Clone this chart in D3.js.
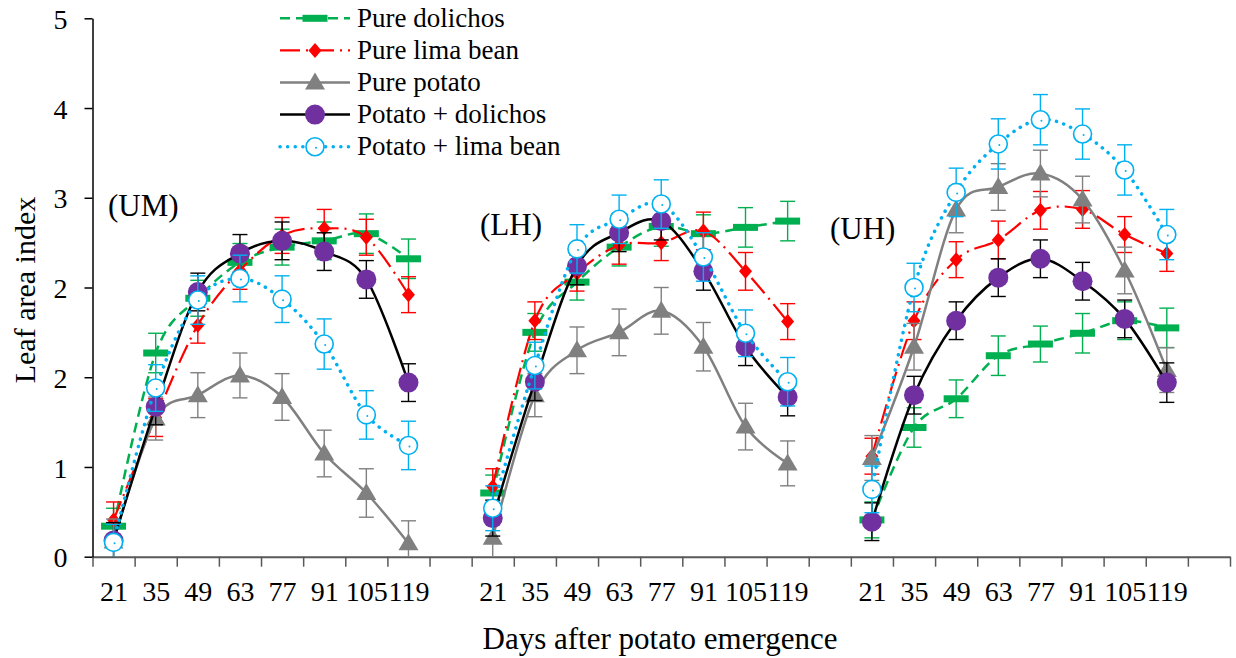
<!DOCTYPE html>
<html>
<head>
<meta charset="utf-8">
<script src="https://cdn.jsdelivr.net/npm/d3@7"></script>
<style>
  html, body { margin: 0; padding: 0; background: #fff; }
  svg { display: block; font-family: "Liberation Serif", "Times New Roman", serif; }
</style>
</head>
<body>
<svg id="chart" width="1236" height="658"></svg>
<script>
// ---------- data ----------
const sites = ["UM", "LH", "UH"];
const days = [21, 35, 49, 63, 77, 91, 105, 119];
const yTickLabels = ["0", "1", "2", "2", "3", "4", "5"];
const seriesNames = ["Pure dolichos", "Pure lima bean", "Pure potato", "Potato + dolichos", "Potato + lima bean"];

// values per site (UM, LH, UH), in the axis units of the chart
const pureDolichos = [
  [0.34, 2.27, 2.88, 3.28, 3.45, 3.52, 3.60, 3.32],
  [0.71, 2.50, 3.06, 3.45, 3.68, 3.60, 3.67, 3.74],
  [0.41, 1.44, 1.76, 2.24, 2.37, 2.49, 2.63, 2.55]
];
const pureLima = [
  [0.41, 1.55, 2.58, 3.19, 3.58, 3.66, 3.56, 2.92],
  [0.78, 2.63, 3.16, 3.47, 3.50, 3.63, 3.18, 2.62],
  [1.12, 2.63, 3.31, 3.53, 3.86, 3.87, 3.59, 3.38]
];
const purePotato = [
  [0.17, 1.54, 1.80, 2.02, 1.78, 1.15, 0.71, 0.15],
  [0.21, 1.80, 2.30, 2.50, 2.74, 2.34, 1.45, 1.04],
  [1.10, 2.34, 3.87, 4.12, 4.27, 3.98, 3.19, 2.08]
];
const potatoDolichos = [
  [0.18, 1.67, 2.95, 3.38, 3.52, 3.40, 3.09, 1.94],
  [0.43, 1.95, 3.24, 3.61, 3.74, 3.18, 2.34, 1.78],
  [0.39, 1.80, 2.63, 3.11, 3.32, 3.07, 2.65, 1.94]
];
const potatoLima = [
  [0.16, 1.88, 2.86, 3.10, 2.87, 2.37, 1.58, 1.24],
  [0.54, 2.13, 3.43, 3.76, 3.93, 3.34, 2.49, 1.95],
  [0.75, 3.00, 4.06, 4.60, 4.87, 4.71, 4.31, 3.59]
];

// error bar half-lengths
const errDolichos = [
  [0.20, 0.22, 0.20, 0.21, 0.20, 0.21, 0.22, 0.22],
  [0.20, 0.21, 0.20, 0.21, 0.22, 0.21, 0.22, 0.22],
  [0.20, 0.22, 0.21, 0.22, 0.20, 0.22, 0.21, 0.22]
];
const errLima = [
  [0.20, 0.21, 0.20, 0.21, 0.20, 0.21, 0.20, 0.20],
  [0.20, 0.21, 0.20, 0.21, 0.20, 0.21, 0.21, 0.20],
  [0.20, 0.21, 0.20, 0.21, 0.21, 0.21, 0.20, 0.20]
];
const errPotato = [
  [0.25, 0.24, 0.25, 0.25, 0.26, 0.26, 0.27, 0.25],
  [0.25, 0.24, 0.26, 0.26, 0.26, 0.27, 0.26, 0.25],
  [0.25, 0.26, 0.26, 0.26, 0.26, 0.26, 0.26, 0.25]
];
const errPotDol = [
  [0.20, 0.20, 0.21, 0.21, 0.21, 0.21, 0.21, 0.21],
  [0.20, 0.21, 0.21, 0.21, 0.21, 0.21, 0.21, 0.21],
  [0.21, 0.21, 0.21, 0.21, 0.21, 0.21, 0.21, 0.22]
];
const errPotLima = [
  [0.20, 0.26, 0.27, 0.26, 0.26, 0.28, 0.27, 0.27],
  [0.25, 0.26, 0.27, 0.27, 0.27, 0.27, 0.26, 0.27],
  [0.26, 0.27, 0.27, 0.28, 0.28, 0.28, 0.28, 0.28]
];

// ---------- styles ----------
const styles = [
  { name: seriesNames[0], values: pureDolichos, err: errDolichos, line: "#00B050", dash: "10,6", width: 2.5, marker: "dash", fill: "#00B050", errColor: "#00B050" },
  { name: seriesNames[1], values: pureLima, err: errLima, line: "#FF0000", dash: "20,6,2,6", width: 2.2, marker: "diamond", fill: "#FF0000", errColor: "#FF0000" },
  { name: seriesNames[2], values: purePotato, err: errPotato, line: "#808080", dash: null, width: 2.5, marker: "triangle", fill: "#808080", errColor: "#808080" },
  { name: seriesNames[3], values: potatoDolichos, err: errPotDol, line: "#000000", dash: null, width: 2.5, marker: "circle", fill: "#7030A0", errColor: "#000000" },
  { name: seriesNames[4], values: potatoLima, err: errPotLima, line: "#00B0F0", dash: "0.1,7.5", width: 3.5, marker: "open", fill: "#ffffff", errColor: "#00B0F0" }
];

// ---------- scales ----------
const slotsPerSite = days.length + 1;
const nSlots = sites.length * slotsPerSite;
const x = d3.scaleLinear().domain([0, nSlots]).range([92.5, 1230]);
const y = d3.scaleLinear().domain([0, 6]).range([556.7, 18.3]);
const slotCenter = (s, i) => x(s * slotsPerSite + i + 0.5);

const svg = d3.select("#chart");

// ---------- axes ----------
const xAxisG = svg.append("g").attr("transform", `translate(0,${y(0)})`)
  .call(d3.axisBottom(x).tickValues(d3.range(0, nSlots + 1)).tickSize(10).tickSizeOuter(0).tickFormat(""));
xAxisG.select(".domain").attr("stroke", "#595959").attr("stroke-width", 2);
xAxisG.selectAll(".tick line").attr("stroke", "#595959").attr("stroke-width", 1.5);

const centers = [];
const centerLabel = new Map();
sites.forEach((s, si) => days.forEach((d, di) => {
  const c = si * slotsPerSite + di + 0.5;
  centers.push(c);
  centerLabel.set(c, String(d));
}));
const xLabG = svg.append("g").attr("transform", `translate(0,${y(0)})`)
  .call(d3.axisBottom(x).tickValues(centers).tickSize(0).tickSizeOuter(0).tickFormat(v => centerLabel.get(v)));
xLabG.select(".domain").remove();
xLabG.selectAll(".tick text").attr("font-size", 28).attr("font-family", "Liberation Serif").attr("fill", "#000")
  .attr("y", 0).attr("dy", "1.58em");

const yAxisG = svg.append("g").attr("transform", `translate(${x(0)},0)`)
  .call(d3.axisLeft(y).tickValues(d3.range(0, 7)).tickSize(8).tickSizeOuter(0).tickPadding(17).tickFormat(i => yTickLabels[i]));
yAxisG.select(".domain").attr("stroke", "#000").attr("stroke-width", 1.5);
yAxisG.selectAll(".tick line").attr("stroke", "#000").attr("stroke-width", 1.5);
yAxisG.selectAll(".tick text").attr("font-size", 28).attr("font-family", "Liberation Serif").attr("fill", "#000").attr("dy", "0.36em");

// axis titles
svg.append("text").attr("x", 660).attr("y", 649).attr("text-anchor", "middle")
  .attr("font-size", 31).text("Days after potato emergence");
svg.append("text").attr("transform", "translate(35,290) rotate(-90)").attr("text-anchor", "middle")
  .attr("font-size", 30).text("Leaf area index");

// panel labels
const panelLabelPos = [[108, 216], [480, 235], [830, 239]];
sites.forEach((s, i) => {
  svg.append("text").attr("x", panelLabelPos[i][0]).attr("y", panelLabelPos[i][1])
    .attr("font-size", 31).text(`(${s})`);
});

// ---------- markers ----------
function drawMarker(g, type, cx, cy, st) {
  if (type === "dash") {
    g.append("rect").attr("x", cx - 12.5).attr("y", cy - 3.5).attr("width", 25).attr("height", 7).attr("fill", st.fill);
  } else if (type === "diamond") {
    g.append("path").attr("d", `M${cx},${cy - 7.5}L${cx + 6.5},${cy}L${cx},${cy + 7.5}L${cx - 6.5},${cy}Z`).attr("fill", st.fill);
  } else if (type === "triangle") {
    g.append("path").attr("d", `M${cx},${cy - 10}L${cx + 10},${cy + 7}L${cx - 10},${cy + 7}Z`).attr("fill", st.fill);
  } else if (type === "circle") {
    g.append("circle").attr("cx", cx).attr("cy", cy).attr("r", 10).attr("fill", st.fill);
  } else if (type === "open") {
    g.append("circle").attr("cx", cx).attr("cy", cy).attr("r", 9).attr("fill", "#fff")
      .attr("stroke", "#00B0F0").attr("stroke-width", 1.6);
    g.append("circle").attr("cx", cx + 1).attr("cy", cy + 1).attr("r", 1).attr("fill", "#00B0F0");
  }
}

const lineGen = d3.line().x(d => d[0]).y(d => d[1]).curve(d3.curveCatmullRom.alpha(0));

// ---------- series ----------
styles.forEach(st => {
  const g = svg.append("g");
  sites.forEach((s, si) => {
    const pts = st.values[si].map((v, di) => [slotCenter(si, di), y(v), v, st.err[si][di]]);
    // error bars
    pts.forEach(p => {
      const eb = g.append("g").attr("stroke", st.errColor).attr("stroke-width", 1.4).attr("fill", "none");
      const top = y(p[2] + p[3]), bot = y(Math.max(0, p[2] - p[3]));
      eb.append("line").attr("x1", p[0]).attr("x2", p[0]).attr("y1", top).attr("y2", bot);
      eb.append("line").attr("x1", p[0] - 7.5).attr("x2", p[0] + 7.5).attr("y1", top).attr("y2", top);
      if (p[2] - p[3] > 0) eb.append("line").attr("x1", p[0] - 7.5).attr("x2", p[0] + 7.5).attr("y1", bot).attr("y2", bot);
    });
    // line
    const path = g.append("path").attr("d", lineGen(pts)).attr("fill", "none")
      .attr("stroke", st.line).attr("stroke-width", st.width);
    if (st.dash) path.attr("stroke-dasharray", st.dash);
    if (st.marker === "open") path.attr("stroke-linecap", "round");
    // markers
    pts.forEach(p => drawMarker(g, st.marker, p[0], p[1], st));
  });
});

// ---------- legend ----------
const lg = svg.append("g");
styles.forEach((st, i) => {
  const cy = 18.3 + 32.1 * i;
  const row = lg.append("g");
  const ln = row.append("line").attr("x1", 280).attr("x2", 350).attr("y1", cy).attr("y2", cy)
    .attr("stroke", st.line).attr("stroke-width", st.width);
  if (st.dash) ln.attr("stroke-dasharray", st.dash);
  if (st.marker === "open") ln.attr("stroke-linecap", "round");
  drawMarker(row, st.marker, 315, cy, st);
  row.append("text").attr("x", 357).attr("y", cy + 8.6).attr("font-size", 27).text(st.name);
});
</script>
</body>
</html>
